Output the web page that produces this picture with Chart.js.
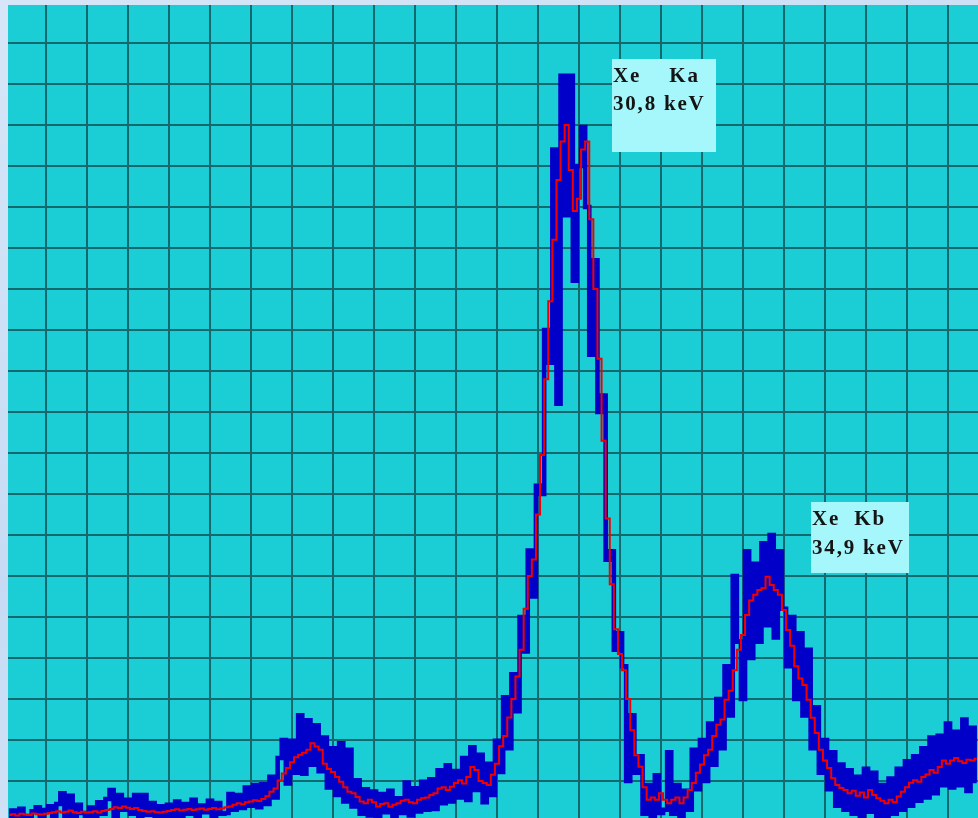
<!DOCTYPE html>
<html>
<head>
<meta charset="utf-8">
<script src="https://cdn.jsdelivr.net/npm/chart.js@4.4.1/dist/chart.umd.min.js"></script>
<style>
  html, body { margin: 0; padding: 0; width: 978px; height: 818px; overflow: hidden;
    background: linear-gradient(160deg, #d6e6f8 0%, #c6dbf3 50%, #dbe9f9 100%); }
  #wrap { position: absolute; left: 0; top: 0; width: 978px; height: 818px; }
</style>
</head>
<body>
<div id="wrap"><canvas id="spectrum" width="978" height="818"></canvas></div>
<script>
// Xenon K-line spectrum: raw counts per channel (blue) and the running average (red).
const rawCounts = [
  0.6,2.8,0.4,3.2,1.0,0.5,2.6,3.6,0.8,2.9,
  3.8,1.0,4.4,7.0,1.4,6.4,0.8,4.2,2.2,0.6,
  3.5,0.9,4.8,2.0,5.6,7.8,1.5,6.6,3.0,5.4,
  2.0,6.6,1.5,6.6,1.8,4.6,0.6,3.8,1.2,4.2,
  1.4,5.0,1.2,4.4,2.0,5.4,0.9,4.0,2.4,5.2,
  1.5,4.6,2.0,2.2,6.8,3.0,6.6,3.4,8.4,4.0,
  9.0,3.6,9.2,4.4,11.0,6.0,15.6,20.0,9.4,19.8,
  12.0,26.0,11.8,24.8,14.0,23.6,12.4,20.6,8.4,18.0,
  6.6,19.2,5.0,17.6,3.8,10.2,2.0,8.0,1.6,7.4,
  1.0,6.8,2.4,7.6,0.8,5.8,2.2,9.6,1.6,8.2,
  2.6,9.8,3.0,10.4,3.2,12.6,4.6,13.8,5.0,12.4,
  6.0,15.6,5.4,18.2,7.8,16.4,4.8,14.2,6.6,19.8,
  12.2,30.4,18.0,36.0,27.0,50.0,41.6,66.2,55.0,82.0,
  80.0,120.0,112.0,164.0,102.0,182.0,148.0,182.0,132.0,160.0,
  169.5,150.0,114.0,137.0,100.0,104.0,64.0,66.0,42.0,46.0,
  38.0,10.0,26.0,12.0,16.0,2.0,9.0,1.0,11.4,2.2,
  3.0,17.0,2.0,9.0,0.5,7.6,3.0,17.6,8.0,20.0,
  10.0,24.0,14.0,30.0,18.0,38.0,26.0,60.0,44.0,30.0,
  66.0,40.0,63.0,44.0,68.0,48.0,70.0,45.0,66.0,52.0,
  38.0,50.0,30.0,46.0,26.0,42.0,18.0,28.0,12.0,20.0,
  8.0,17.0,4.0,14.0,3.0,12.6,2.0,11.0,1.0,13.0,
  2.5,12.0,1.0,9.0,0.4,10.6,2.0,13.0,3.0,14.8,
  4.0,16.0,5.2,18.0,6.0,20.6,7.0,21.0,9.0,24.0,
  8.4,22.0,9.0,25.0,7.6,23.0,10.0
];

const smoothedCounts = [
  1.7,1.9,1.6,2.0,1.8,1.7,2.1,1.9,1.8,2.0,
  2.2,2.4,2.6,2.3,2.5,2.8,2.4,2.2,2.5,2.3,
  2.4,2.6,2.3,2.7,2.9,3.2,3.6,3.4,3.8,3.5,
  3.2,3.4,2.9,2.7,2.5,2.6,2.4,2.3,2.5,2.7,
  2.9,3.1,2.8,3.0,3.2,2.9,3.1,3.3,3.0,3.2,
  3.4,3.1,3.3,3.6,3.8,4.2,4.6,4.3,4.8,5.0,
  5.3,5.1,5.6,6.3,7.4,8.2,10.1,11.8,13.2,14.6,
  15.8,16.4,16.9,17.6,19.2,18.4,17.6,14.2,12.9,12.2,
  11.0,9.8,8.5,7.4,7.0,6.1,5.0,4.6,5.4,4.8,
  3.8,4.4,4.6,3.7,4.2,4.6,5.2,5.4,4.8,4.6,
  5.4,5.8,6.0,6.6,7.0,8.2,8.5,7.8,8.6,9.5,
  10.2,9.4,11.0,13.4,12.7,10.0,9.5,9.0,11.5,14.2,
  18.5,21.0,25.5,30.0,35.5,42.0,52.0,60.0,64.0,75.0,
  89.5,108,127,142,156.6,166,170,159,149,152,
  164,166,147,130,113,93,74,58,47,41,
  37,30,22.4,16.3,13.5,8.5,5.4,6.0,5.4,7.0,
  5.4,4.6,5.4,6.0,4.6,6.0,7.8,9.5,12.0,14.0,
  16.3,17.6,21,23.7,25,29.8,32,37,42,45.6,
  50.5,54,55.4,56.6,57,59.8,57.8,56.6,55.4,51.7,
  46.8,43,38,35,33.4,29.8,25.4,21.7,17.6,15,
  13.2,10.7,9.0,8.3,7.8,7.0,7.6,6.4,7.2,6.0,
  7.8,6.6,5.8,5.2,4.6,5.4,4.8,6.2,7.4,8.5,
  9.6,10.2,9.8,11.0,11.6,12.7,12.0,13.4,15.0,14.2,
  15.0,15.6,14.8,14.4,15.2,15.0,15.4
];

// Grid positions (channels and counts)
const channelGrid = [10,20,30,40,50,60,70,80,90,100,110,120,130,140,150,160,170,180,190,200,210,220,230];
const countGrid = [10,20,30,40,50,60,70,80,90,100,110,120,130,140,150,160,170,180,190];

// Peak captions
const kaCaption = ['Xe    Ka', '30,8 keV'];
const kbCaption = ['Xe  Kb', '34,9 keV'];

const channels = rawCounts.map((_, i) => i + 1);
const rawPoints = channels.map((c, i) => ({ x: c, y: rawCounts[i] }));
const smoothPoints = channels.map((c, i) => ({ x: c, y: smoothedCounts[i] }));

const backdrop = {
  id: 'backdrop',
  beforeDraw(chart) {
    const { ctx, chartArea: a } = chart;
    ctx.save();
    ctx.fillStyle = '#1BCDD5';
    ctx.fillRect(a.left, a.top, a.right - a.left, a.bottom - a.top);
    ctx.restore();
  }
};

const peakTags = {
  id: 'peakTags',
  afterDatasetsDraw(chart, args, opts) {
    const { ctx, scales: { x, y } } = chart;
    ctx.save();
    opts.items.forEach(it => {
      const left = x.getPixelForValue(it.channel);
      const top = y.getPixelForValue(it.count);
      ctx.fillStyle = opts.fill;
      ctx.fillRect(left, top, it.w, it.h);
      ctx.font = opts.font;
      ctx.letterSpacing = opts.spacing;
      ctx.fillStyle = opts.color;
      ctx.textBaseline = 'alphabetic';
      it.lines.forEach((s, i) => ctx.fillText(s, left + 1, top + it.first + i * it.lead));
    });
    ctx.restore();
  }
};

new Chart(document.getElementById('spectrum'), {
  type: 'line',
  data: {
    datasets: [
      {
        label: 'average',
        data: smoothPoints,
        borderColor: '#F00000',
        borderWidth: 2,
        stepped: 'middle',
        pointRadius: 0,
        fill: false,
        clip: 0
      },
      {
        label: 'counts',
        data: rawPoints,
        borderColor: '#0000C8',
        borderWidth: 4.6,
        stepped: 'middle',
        borderJoinStyle: 'miter',
        pointRadius: 0,
        fill: false,
        clip: 0
      }
    ]
  },
  options: {
    responsive: false,
    animation: false,
    events: [],
    layout: { padding: { left: 8, top: 5, right: 0, bottom: 0 } },
    plugins: {
      legend: { display: false },
      tooltip: { enabled: false },
      peakTags: {
        fill: '#A6F7FC',
        color: '#141414',
        font: 'bold 21px "Liberation Serif", "Times New Roman", serif',
        spacing: '1.8px',
        items: [
          { lines: kaCaption, channel: 148.05, count: 186.1, w: 104, h: 93, first: 23, lead: 28 },
          { lines: kbCaption, channel: 196.6, count: 78.05, w: 98, h: 71, first: 23, lead: 29 }
        ]
      }
    },
    scales: {
      x: {
        type: 'linear',
        min: 0.7317,
        max: 237.317,
        border: { display: false },
        ticks: { display: false },
        grid: { color: '#136A6E', lineWidth: 2, drawTicks: false },
        afterBuildTicks: s => { s.ticks = channelGrid.map(v => ({ value: v })); },
        afterFit: s => { s.height = 0; }
      },
      y: {
        type: 'linear',
        min: 0.9756,
        max: 199.27,
        border: { display: false },
        ticks: { display: false },
        grid: { color: '#136A6E', lineWidth: 2, drawTicks: false },
        afterBuildTicks: s => { s.ticks = countGrid.map(v => ({ value: v })); },
        afterFit: s => { s.width = 0; }
      }
    }
  },
  plugins: [backdrop, peakTags]
});
</script>
</body>
</html>
